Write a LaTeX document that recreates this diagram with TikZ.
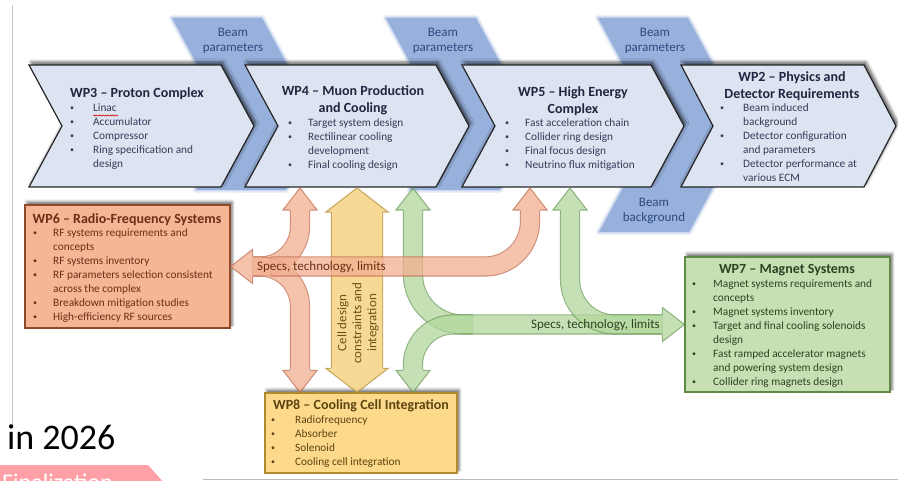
\documentclass[tikz,border=0pt]{standalone}
\usepackage{fontspec}
\setmainfont{Carlito}
\usetikzlibrary{shadows.blur,decorations.pathmorphing}

\definecolor{chevfill}{HTML}{DCE4F2}
\definecolor{chevtext}{HTML}{1F2640}
\definecolor{chevbody}{HTML}{343B58}
\definecolor{beamblue}{HTML}{97B0DC}
\definecolor{beamtext}{HTML}{2F4A80}
\definecolor{rffill}{HTML}{F5B696}
\definecolor{rfline}{HTML}{8E4A2A}
\definecolor{rftext}{HTML}{6A3015}
\definecolor{magfill}{HTML}{C6E0B4}
\definecolor{magline}{HTML}{5E8A45}
\definecolor{magtext}{HTML}{2F4223}
\definecolor{cellfill}{HTML}{FDD98C}
\definecolor{cellline}{HTML}{B08A2E}
\definecolor{celltext}{HTML}{5C4510}
\definecolor{ofill}{HTML}{F2AE90}
\definecolor{oline}{HTML}{C06A4A}
\definecolor{yfill}{HTML}{F5D07A}
\definecolor{yline}{HTML}{B8943A}
\definecolor{gfill}{HTML}{B2D69C}
\definecolor{gline}{HTML}{6A9A55}
\definecolor{tabpink}{HTML}{FF9FA6}

\newcommand\wpb{\raisebox{.8pt}{\fontsize{8}{8}\selectfont\textbullet}}

\tikzset{
  softshadow/.style={blur shadow={shadow xshift=2pt, shadow yshift=3pt,
      shadow blur radius=3pt, shadow opacity=60}},
  chev/.style={draw=black!85, line width=1.2pt, fill=chevfill, softshadow},
  rfbox/.style={draw=rfline, line width=1.2pt, fill=rffill, softshadow},
  magbox/.style={draw=magline, line width=1.2pt, fill=magfill, softshadow},
  cellbox/.style={draw=cellline, line width=1.2pt, fill=cellfill, softshadow},
  wptitle/.style={font=\fontsize{14}{17}\selectfont\bfseries, inner sep=0pt, anchor=base},
  wplist/.style={font=\fontsize{11.3}{14}\selectfont, inner sep=0pt, anchor=base west},
  beamlabel/.style={font=\fontsize{13}{15}\selectfont, text=beamtext, inner sep=0pt, anchor=base},
  tgroup/.style={transparency group, opacity=#1},
  oshaft/.style={draw=oline, line width=1.1pt, double=ofill, double distance=18pt},
  gshaft/.style={draw=gline, line width=1.1pt, double=gfill, double distance=18pt},
  yshaft/.style={draw=yline, line width=1.1pt, double=yfill, double distance=50pt},
  ohead/.style={fill=ofill, draw=oline, line width=1.1pt},
  ghead/.style={fill=gfill, draw=gline, line width=1.1pt},
  yhead/.style={fill=yfill, draw=yline, line width=1.1pt},
  pics/bhead/.style args={#1/#2/#3}{code={
    \fill (0,0) -- (-#1,-#2) -- (-#1,#2) -- cycle;
    \draw[line join=miter] (-#1,-#3) -- (-#1,-#2) -- (0,0) -- (-#1,#2) -- (-#1,#3);
  }},
}

\begin{document}
\begin{tikzpicture}[x=1pt, y=-1pt]
\useasboundingbox (0,0) rectangle (898,481);

% slide leftovers
\draw[gray!45, line width=.8pt] (12,5) -- (12,428);
\draw[gray!55, line width=1pt] (203,479) -- (898,479);
\node[font=\fontsize{36}{40}\selectfont, inner sep=0pt, anchor=base west] (year) at (7,449) {in 2026};
\begin{scope}
  \clip (0,0) rectangle (898,481);
  \fill[tabpink] (0,465) -- (148,465) -- (165,484) -- (0,484) -- cycle;
  \node[font=\fontsize{24}{28}\selectfont, text=white, inner sep=0pt, anchor=base west] (final) at (2,490.5) {Finalization};
\end{scope}

% beam bands behind the chevrons
\foreach \bx/\bd/\by in {172/34.6/190, 386/34.6/190, 598/57.2/232}{
  \path[save path=\bandp] (\bx,18) -- (\bx+90,18) -- (\bx+148.3,126) -- (\bx+148.3-\bd,\by)
    -- (\bx+58.3-\bd,\by) -- (\bx+58.3,126) -- cycle;
  \draw[beamblue, line width=6pt, opacity=.2, line join=round, use path=\bandp];
  \draw[beamblue, line width=3pt, opacity=.35, line join=round, use path=\bandp];
  \fill[beamblue, use path=\bandp];
}
\node[beamlabel] (bp1) at (233,37) {\begin{tabular}[t]{@{}c@{}}Beam\\parameters\end{tabular}};
\node[beamlabel] (bp2) at (443,37) {\begin{tabular}[t]{@{}c@{}}Beam\\parameters\end{tabular}};
\node[beamlabel] (bp3) at (655,37) {\begin{tabular}[t]{@{}c@{}}Beam\\parameters\end{tabular}};
\node[beamlabel] (bb) at (654,207) {\begin{tabular}[t]{@{}c@{}}Beam\\background\end{tabular}};

% chevrons
\draw[chev] (29,65) -- (221,65) -- (254,126) -- (221,187) -- (29,187) -- (62,126) -- cycle;
\draw[chev] (245,65) -- (436,65) -- (469,126) -- (436,187) -- (245,187) -- (278,126) -- cycle;
\draw[chev] (462,65) -- (651,65) -- (684,126) -- (651,187) -- (462,187) -- (495,126) -- cycle;
\draw[chev] (681,65) -- (864,65) -- (896,126) -- (864,187) -- (681,187) -- (713,126) -- cycle;

\node[wptitle, text=chevtext] (wp3) at (137,97.5) {WP3 – Proton Complex};
\node[wplist, text=chevbody] (wp3-list) at (70,111.5) {\begin{tabular}[t]{@{}p{23pt}@{}l@{}}
  \wpb & Linac\\ \wpb & Accumulator\\ \wpb & Compressor\\ \wpb & Ring specification and\\ & design\end{tabular}};
\draw[red!85!black, line width=.5pt, decorate, decoration={snake, amplitude=.6pt, segment length=2.4pt}]
  (93,115.5) -- (118,115.5);

\node[wptitle, text=chevtext] (wp4) at (353,95.5) {\begin{tabular}[t]{@{}c@{}}WP4 – Muon Production\\and Cooling\end{tabular}};
\node[wplist, text=chevbody] (wp4-list) at (288,126.5) {\begin{tabular}[t]{@{}p{20pt}@{}l@{}}
  \wpb & Target system design\\ \wpb & Rectilinear cooling\\ & development\\ \wpb & Final cooling design\end{tabular}};

\node[wptitle, text=chevtext] (wp5) at (573,96.5) {\begin{tabular}[t]{@{}c@{}}WP5 – High Energy\\Complex\end{tabular}};
\node[wplist, text=chevbody] (wp5-list) at (505,126.5) {\begin{tabular}[t]{@{}p{20pt}@{}l@{}}
  \wpb & Fast acceleration chain\\ \wpb & Collider ring design\\ \wpb & Final focus design\\ \wpb & Neutrino flux mitigation\end{tabular}};

\node[wptitle, text=chevtext] (wp2) at (792,81.5) {\begin{tabular}[t]{@{}c@{}}WP2 – Physics and\\Detector Requirements\end{tabular}};
\node[wplist, text=chevbody] (wp2-list) at (720,111.5) {\begin{tabular}[t]{@{}p{23pt}@{}l@{}}
  \wpb & Beam induced\\ & background\\ \wpb & Detector configuration\\ & and parameters\\
  \wpb & Detector performance at\\ & various ECM\end{tabular}};

% work package boxes
\node[rfbox, minimum width=205pt, minimum height=123pt] (wp6) at (127.5,266.5) {};
\node[magbox, minimum width=205pt, minimum height=135pt] (wp7) at (787.5,324.5) {};
\node[cellbox, minimum width=192pt, minimum height=80pt] (wp8) at (361,433) {};

\node[wptitle, text=rftext] (wp6-title) at (127,223.5) {WP6 – Radio-Frequency Systems};
\node[wplist, text=rftext] (wp6-list) at (33,236.5) {\begin{tabular}[t]{@{}p{20pt}@{}l@{}}
  \wpb & RF systems requirements and\\ & concepts\\ \wpb & RF systems inventory\\
  \wpb & RF parameters selection consistent\\ & across the complex\\
  \wpb & Breakdown mitigation studies\\ \wpb & High-efficiency RF sources\end{tabular}};

\node[wptitle, text=magtext] (wp7-title) at (787,273.5) {WP7 – Magnet Systems};
\node[wplist, text=magtext] (wp7-list) at (692,287.5) {\begin{tabular}[t]{@{}p{21pt}@{}l@{}}
  \wpb & Magnet systems requirements and\\ & concepts\\ \wpb & Magnet systems inventory\\
  \wpb & Target and final cooling solenoids\\ & design\\
  \wpb & Fast ramped accelerator magnets\\ & and powering system design\\
  \wpb & Collider ring magnets design\end{tabular}};

\node[wptitle, text=celltext] (wp8-title) at (361,409.5) {WP8 – Cooling Cell Integration};
\node[wplist, text=celltext] (wp8-list) at (271,423.5) {\begin{tabular}[t]{@{}p{24pt}@{}l@{}}
  \wpb & Radiofrequency\\ \wpb & Absorber\\ \wpb & Solenoid\\ \wpb & Cooling cell integration\end{tabular}};

% ports on the chevrons and the boxes
\coordinate (wp4-rf) at (300,188);
\coordinate (wp4-cell) at (357,188);
\coordinate (wp4-mag) at (413,188);
\coordinate (wp5-rf) at (530,188);
\coordinate (wp5-mag) at (570,188);
\coordinate (wp8-rf) at (wp4-rf |- wp8.north);
\coordinate (wp8-cell) at (wp4-cell |- wp8.north);
\coordinate (wp8-mag) at (wp4-mag |- wp8.north);
\coordinate (rf-bus) at (wp4-rf |- wp6.east);
\coordinate (mag-bus) at (wp4-mag |- wp7.west);

% cell design link
\begin{scope}[tgroup=.8]
  \draw[yshaft] ([yshift=-24pt]wp4-cell) -- ([yshift=24pt]wp8-cell);
  \pic[yhead, rotate=90] at (wp4-cell) {bhead=24/31/26.1};
  \pic[yhead, rotate=-90] at (wp8-cell) {bhead=24/31/26.1};
\end{scope}
\node[font=\fontsize{13}{15}\selectfont, text=celltext!85!yline, rotate=90, align=center, inner sep=0pt]
  (cell-lbl) at (358,323) {Cell design\\constraints and\\integration};

% magnet specs
\begin{scope}[tgroup=.75]
  \draw[gshaft, rounded corners=50pt] ([yshift=-22pt]wp4-mag) -- (mag-bus) -- ([xshift=-22pt]wp7.west);
  \pic[ghead, rotate=90] at (wp4-mag) {bhead=22/17/10.1};
  \pic[ghead] at (wp7.west) {bhead=22/17/10.1};
\end{scope}
\begin{scope}[tgroup=.75]
  \draw[gshaft, rounded corners=40pt] ([xshift=60pt]mag-bus) -- (mag-bus) -- ([yshift=22pt]wp8-mag);
  \pic[ghead, rotate=-90] at (wp8-mag) {bhead=22/17/10.1};
\end{scope}
\begin{scope}[tgroup=.75]
  \draw[gshaft, rounded corners=45pt] ([yshift=-22pt]wp5-mag) -- (wp5-mag |- wp7.west) -- ([xshift=-22pt]wp7.west);
  \pic[ghead, rotate=90] at (wp5-mag) {bhead=22/17/10.1};
\end{scope}
\node[font=\fontsize{13}{15}\selectfont, text=magtext, inner sep=0pt, anchor=base east]
  (mag-lbl) at (660,328.5) {Specs, technology, limits};

% RF specs
\begin{scope}[tgroup=.75]
  \draw[oshaft, rounded corners=40pt] ([yshift=-22pt]wp4-rf) -- (rf-bus) -- ([xshift=22pt]wp6.east);
  \pic[ohead, rotate=90] at (wp4-rf) {bhead=22/17/10.1};
  \pic[ohead, rotate=180] at (wp6.east) {bhead=22/17/10.1};
\end{scope}
\begin{scope}[tgroup=.75]
  \draw[oshaft, rounded corners=40pt] ([xshift=22pt]wp6.east) -- (rf-bus) -- ([yshift=22pt]wp8-rf);
  \pic[ohead, rotate=-90] at (wp8-rf) {bhead=22/17/10.1};
\end{scope}
\begin{scope}[tgroup=.75]
  \draw[oshaft, rounded corners=45pt] ([xshift=40pt]wp6.east) -- (wp5-rf |- wp6.east) -- ([yshift=-22pt]wp5-rf);
  \pic[ohead, rotate=90] at (wp5-rf) {bhead=22/17/10.1};
\end{scope}
\node[font=\fontsize{13}{15}\selectfont, text=rftext, inner sep=0pt, anchor=base west]
  (rf-lbl) at (257,271) {Specs, technology, limits};
\end{tikzpicture}
\end{document}
